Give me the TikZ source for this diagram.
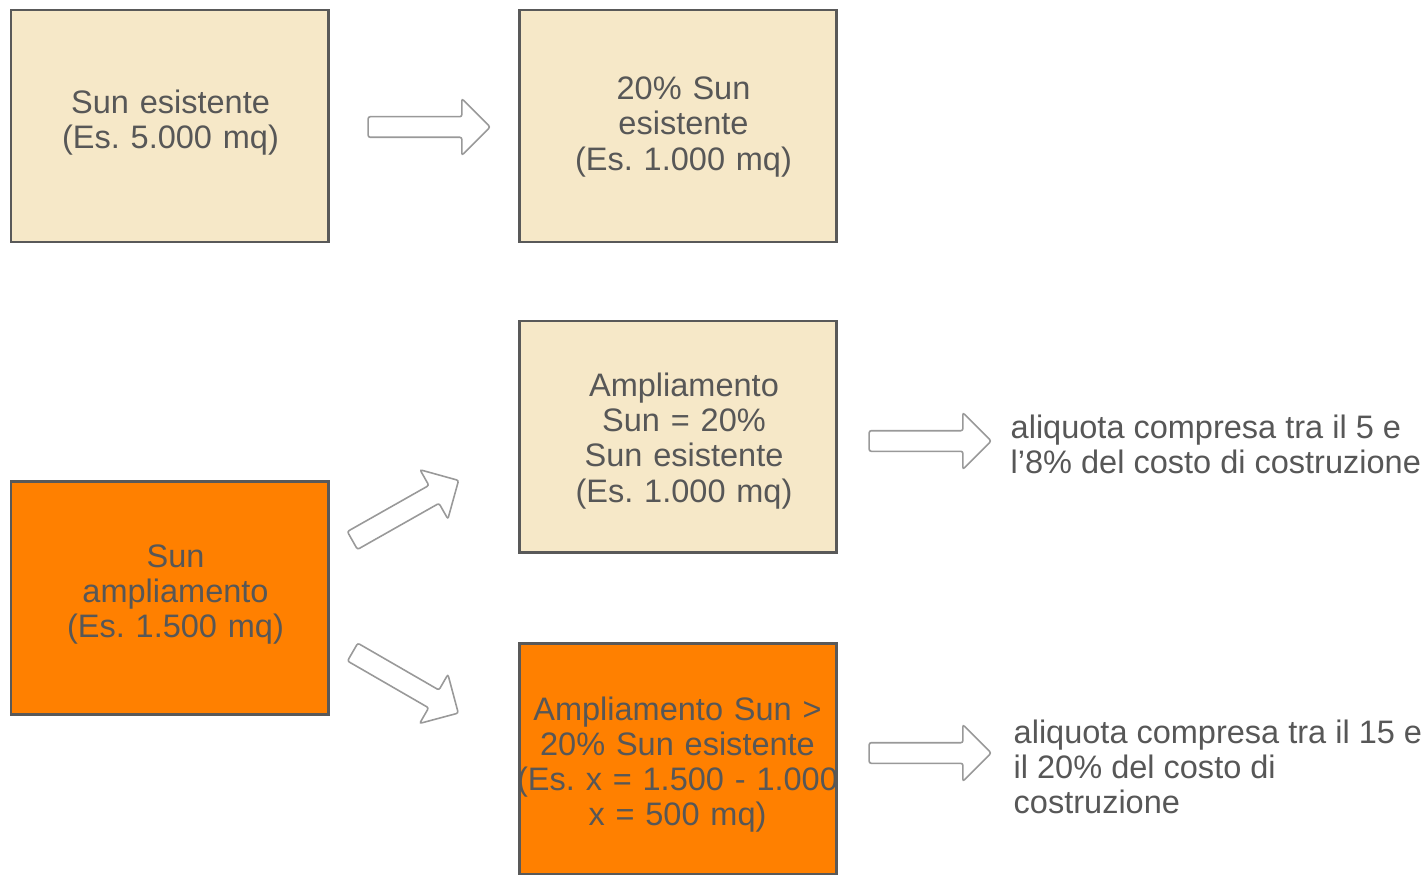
\documentclass[tikz,border=0pt]{standalone}
\usepackage{fontspec}
\setmainfont{Liberation Sans}
\usetikzlibrary{shapes.arrows}

\definecolor{beige}{HTML}{F6E8C8}
\definecolor{arancio}{HTML}{FF8000}
\definecolor{rand}{HTML}{595959}
\definecolor{schrift}{HTML}{575757}

\begin{document}
\frenchspacing
\begin{tikzpicture}[
	box/.style={draw=rand, line width=0.85pt, minimum width=3.17cm, minimum height=2.32cm, inner sep=0pt},
	beigebox/.style={box, fill=beige},
	orangebox/.style={box, fill=arancio},
	boxtext/.style={text width=3.37cm, align=center, inner sep=0pt, text=schrift},
	pfeil/.style={single arrow, draw=black!40, fill=white, line width=0.45pt, minimum height=1.22cm, inner xsep=0pt, inner ysep=0.095cm, single arrow head extend=0.18cm, single arrow head indent=0pt, rounded corners=0.6pt},
	notiz/.style={anchor=west, align=left, inner sep=0pt, text=schrift}
]
	\useasboundingbox (0,0) rectangle (14.27,8.74); % Rand um Grafik
	\fontsize{9.25}{10}\selectfont
	
	% Kaesten
	\node[beigebox] (b1) at (1.695,7.48) {};
	\node[beigebox] (b2) at (6.775,7.48) {};
	\node[beigebox, minimum height=2.31cm] (b3) at (6.775,4.375) {};
	\node[orangebox, minimum height=2.33cm] (b4) at (1.695,2.765) {};
	\node[orangebox, minimum height=2.31cm] (b5) at (6.775,1.155) {};
	
	% Beschriftung der Kaesten
	\node[boxtext] (s1) at ([xshift=0.01cm, yshift=0.03cm]b1.center) {Sun esistente\\(Es. 5.000 mq)};
	\node[boxtext] (s2) at ([xshift=0.06cm, yshift=-0.01cm]b2.center) {20\% Sun\\esistente\\(Es. 1.000 mq)};
	\node[boxtext] (s3) at ([xshift=0.065cm, yshift=-0.045cm]b3.center) {Ampliamento\\Sun = 20\%\\Sun esistente\\(Es. 1.000 mq)};
	\node[boxtext] (s4) at ([xshift=0.06cm, yshift=0.03cm]b4.center) {Sun\\ampliamento\\(Es. 1.500 mq)};
	\node[boxtext] (s5) at ([yshift=-0.06cm]b5.center) {Ampliamento Sun >\\20\% Sun esistente\\(Es. x = 1.500 - 1.000\\x = 500 mq)};
	
	% Pfeile
	\node[pfeil] (p1) at (4.24,7.47) {};
	\node[pfeil, rotate=29.5] (p2) at (4.01,3.61) {};
	\node[pfeil, rotate=-30] (p3) at (4.01,1.94) {};
	\node[pfeil] (p4) at (9.25,4.33) {};
	\node[pfeil] (p5) at (9.25,1.21) {};
	
	% Texte rechts
	\node[notiz] (t1) at (10.10,4.295) {aliquota compresa tra il 5 e\\l’8\% del costo di costruzione};
	\node[notiz] (t2) at (10.13,1.07) {aliquota compresa tra il 15 e\\il 20\% del costo di\\costruzione};
\end{tikzpicture}
\end{document}
